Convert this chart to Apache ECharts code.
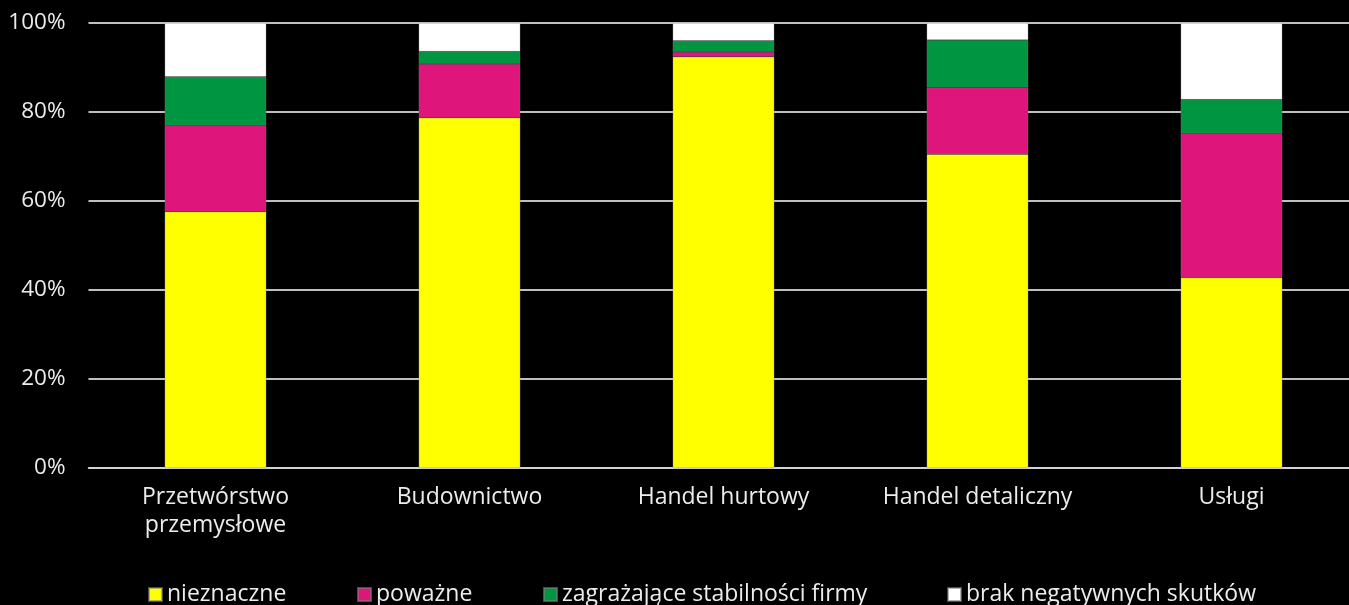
<!DOCTYPE html>
<html><head><meta charset="utf-8">
<script src="https://cdn.jsdelivr.net/npm/echarts@6/dist/echarts.min.js"></script>
<style>html,body{margin:0;padding:0;background:#000;}#c{width:1349px;height:605px;}</style>
</head><body><div id="c"></div>
<script>
const categories = ['Przetwórstwo\nprzemysłowe', 'Budownictwo', 'Handel hurtowy', 'Handel detaliczny', 'Usługi'];
const seriesNames = ['nieznaczne', 'poważne', 'zagrażające stabilności firmy', 'brak negatywnych skutków'];
const nieznaczne = [57.6, 78.7, 92.4, 70.5, 42.8];
const powazne = [19.4, 12.1, 1.1, 15.0, 32.4];
const zagrazajace = [10.9, 2.8, 2.5, 10.7, 7.6];
const brak = [12.1, 6.4, 4.0, 3.8, 17.2];
const yTicks = [0, 20, 40, 60, 80, 100];

const colors = ['#FFFF00', '#DE167B', '#009540', '#FFFFFF'];
const values = [nieznaczne, powazne, zagrazajace, brak];
const font = 'Open Sans';
const legendLefts = [143, 352, 538, 942];

const chart = echarts.init(document.getElementById('c'));
chart.setOption({
  backgroundColor: '#000000',
  animation: false,
  grid: { left: 88.5, width: 1270, top: 23, bottom: 137, containLabel: false, outerBoundsMode: 'none' },
  legend: seriesNames.map((n, i) => ({
    data: [n], left: legendLefts[i], top: 578, itemWidth: 13, itemHeight: 13, itemGap: 6,
    icon: 'rect',
    textStyle: { color: '#ececec', fontFamily: font, fontSize: 23, padding: [0,0,0,0] }
  })),
  xAxis: {
    type: 'category', data: categories,
    axisLine: { show: true, lineStyle: { color: '#d9d9d9', width: 1.5 } },
    axisTick: { show: false },
    axisLabel: { color: '#ececec', fontFamily: font, fontSize: 23, margin: 15, lineHeight: 28, interval: 0 }
  },
  yAxis: {
    type: 'value', min: 0, max: 100, interval: 20,
    axisLine: { show: false }, axisTick: { show: false },
    axisLabel: { color: '#ececec', fontFamily: font, fontSize: 22.5, margin: 23, formatter: v => yTicks.includes(v) ? v + '%' : '' },
    splitLine: { lineStyle: { color: '#ffffff', width: 1.5 } }
  },
  series: seriesNames.map((n, i) => ({
    name: n, type: 'bar', stack: 'total', barWidth: '40%',
    data: values[i],
    itemStyle: { color: colors[i], borderColor: 'rgba(128,128,128,0.6)', borderWidth: 0.5 }
  }))
});
</script></body></html>
